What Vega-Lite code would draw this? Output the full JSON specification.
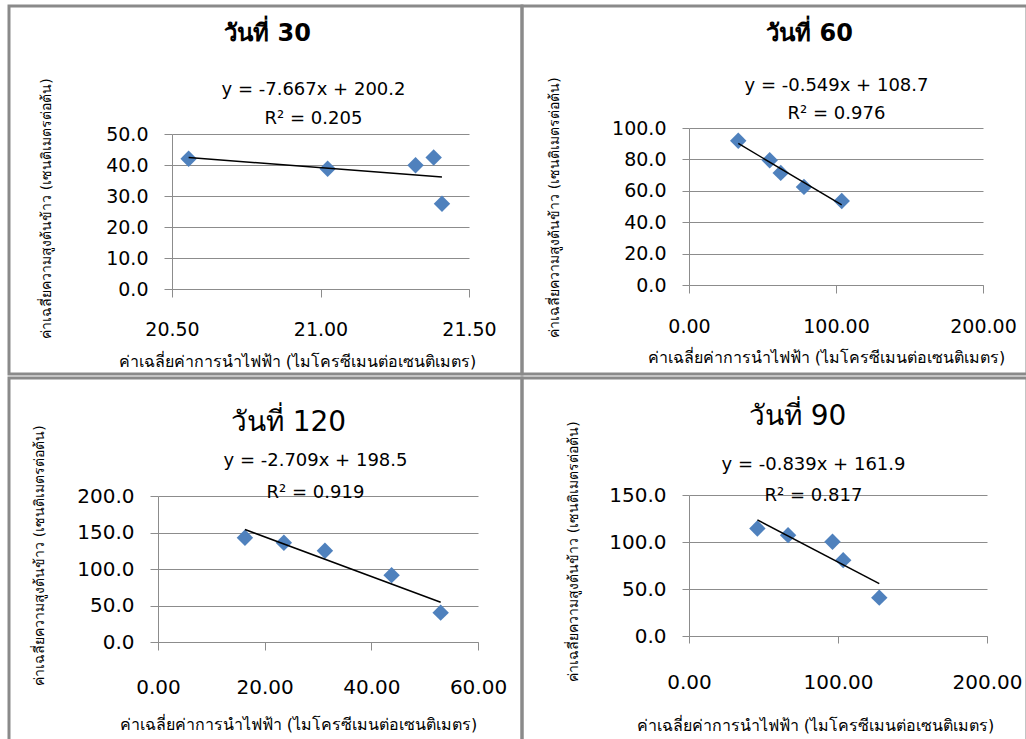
{
  "$schema": "https://vega.github.io/schema/vega-lite/v6.json",
  "padding": {"left": 7, "top": 4, "right": 0, "bottom": 0},
  "background": "white",
  "datasets": {
    "d30": [{"ec": 20.556, "h": 42.0}, {"ec": 21.024, "h": 38.8}, {"ec": 21.32, "h": 39.9}, {"ec": 21.381, "h": 42.4}, {"ec": 21.409, "h": 27.5}],
    "d60": [{"ec": 33.5, "h": 91.9}, {"ec": 54.9, "h": 79.5}, {"ec": 62.4, "h": 71.4}, {"ec": 78.2, "h": 62.5}, {"ec": 103.9, "h": 53.5}],
    "d120": [{"ec": 16.3, "h": 142.8}, {"ec": 23.6, "h": 135.9}, {"ec": 31.3, "h": 124.9}, {"ec": 43.8, "h": 91.6}, {"ec": 53.0, "h": 40.2}],
    "d90": [{"ec": 45.9, "h": 114.4}, {"ec": 66.5, "h": 107.3}, {"ec": 96.3, "h": 100.2}, {"ec": 103.5, "h": 80.7}, {"ec": 127.7, "h": 40.8}]
  },
  "spacing": 0,
  "vconcat": [
    {
      "spacing": 0,
      "bounds": "flush",
      "hconcat": [
        {
          "width": 513, "height": 368,
          "title": {"text": "วันที่ 30", "fontSize": 24, "fontWeight": "bold", "anchor": "middle", "frame": "group", "dx": 2, "offset": -40},
          "data": {"name": "d30"},
          "layer": [
            {
              "mark": {"type": "point", "shape": "diamond", "filled": true, "size": 270, "color": "#4F81BD", "opacity": 1},
              "encoding": {
                "x": {"field": "ec", "type": "quantitative", "scale": {"domain": [20.5, 21.5], "range": [163, 460], "nice": false, "zero": false},
                  "axis": {"orient": "bottom", "offset": -85, "values": [20.5, 21, 21.5], "format": ".2f", "tickSize": 8, "labelPadding": 32, "labelBaseline": "middle", "labelFontSize": 19,
                    "title": "ค่าเฉลี่ยค่าการนำไฟฟ้า (ไมโครซีเมนต่อเซนติเมตร)", "titleFontSize": 16, "titleX": 288, "titleY": 72, "titleBaseline": "middle", "grid": false}},
                "y": {"field": "h", "type": "quantitative", "scale": {"domain": [0, 50], "range": [283, 128], "nice": false, "zero": false},
                  "axis": {"orient": "left", "offset": -163, "values": [0, 10, 20, 30, 40, 50], "format": ".1f", "tickSize": 8, "labelPadding": 16, "labelFontSize": 19, "grid": true,
                    "title": "ค่าเฉลี่ยความสูงต้นข้าว (เซนติเมตรต่อต้น)", "titleFontSize": 14, "titleX": -126, "titleY": 202, "titleBaseline": "middle"}}
              }
            },
            {
              "transform": [{"regression": "h", "on": "ec"}],
              "mark": {"type": "line", "color": "#000000", "strokeWidth": 1.5},
              "encoding": {
                "x": {"field": "ec", "type": "quantitative",
                  "axis": {"orient": "top", "offset": 0, "domain": false, "ticks": false, "labels": false, "grid": false,
                    "title": ["y = -7.667x + 200.2", "R² = 0.205"], "titleFontSize": 18, "titleFontWeight": "normal", "titleX": 304, "titleY": 83.5, "titleBaseline": "middle", "titleLineHeight": 29, "titleAngle": 0}},
                "y": {"field": "h", "type": "quantitative"}
              }
            }
          ],
          "resolve": {"axis": {"x": "independent"}}
        },
        {
          "width": 505, "height": 368,
          "title": {"text": "วันที่ 60", "fontSize": 24, "fontWeight": "bold", "anchor": "middle", "frame": "group", "dx": 35, "offset": -40},
          "data": {"name": "d60"},
          "layer": [
            {
              "mark": {"type": "point", "shape": "diamond", "filled": true, "size": 270, "color": "#4F81BD", "opacity": 1},
              "encoding": {
                "x": {"field": "ec", "type": "quantitative", "scale": {"domain": [0, 200], "range": [167, 461], "nice": false, "zero": false},
                  "axis": {"orient": "bottom", "offset": -89, "values": [0, 100, 200], "format": ".2f", "tickSize": 8, "labelPadding": 33, "labelBaseline": "middle", "labelFontSize": 19,
                    "title": "ค่าเฉลี่ยค่าการนำไฟฟ้า (ไมโครซีเมนต่อเซนติเมตร)", "titleFontSize": 16, "titleX": 304, "titleY": 72, "titleBaseline": "middle", "grid": false}},
                "y": {"field": "h", "type": "quantitative", "scale": {"domain": [0, 100], "range": [279, 122], "nice": false, "zero": false},
                  "axis": {"orient": "left", "offset": -167, "values": [0, 20, 40, 60, 80, 100], "format": ".1f", "tickSize": 7, "labelPadding": 16, "labelFontSize": 19, "grid": true,
                    "title": "ค่าเฉลี่ยความสูงต้นข้าว (เซนติเมตรต่อต้น)", "titleFontSize": 14, "titleX": -135, "titleY": 201, "titleBaseline": "middle"}}
              }
            },
            {
              "transform": [{"regression": "h", "on": "ec"}],
              "mark": {"type": "line", "color": "#000000", "strokeWidth": 1.5},
              "encoding": {
                "x": {"field": "ec", "type": "quantitative",
                  "axis": {"orient": "top", "offset": 0, "domain": false, "ticks": false, "labels": false, "grid": false,
                    "title": ["y = -0.549x + 108.7", "R² = 0.976"], "titleFontSize": 18, "titleFontWeight": "normal", "titleX": 314, "titleY": 79, "titleBaseline": "middle", "titleLineHeight": 28, "titleAngle": 0}},
                "y": {"field": "h", "type": "quantitative"}
              }
            }
          ],
          "resolve": {"axis": {"x": "independent"}}
        }
      ]
    },
    {
      "spacing": 0,
      "bounds": "flush",
      "hconcat": [
        {
          "width": 513, "height": 363,
          "title": {"text": "วันที่ 120", "fontSize": 28, "fontWeight": "normal", "anchor": "middle", "frame": "group", "dx": 23, "offset": -59},
          "data": {"name": "d120"},
          "layer": [
            {
              "mark": {"type": "point", "shape": "diamond", "filled": true, "size": 270, "color": "#4F81BD", "opacity": 1},
              "encoding": {
                "x": {"field": "ec", "type": "quantitative", "scale": {"domain": [0, 60], "range": [149, 469], "nice": false, "zero": false},
                  "axis": {"orient": "bottom", "offset": -99, "values": [0, 20, 40, 60], "format": ".2f", "tickSize": 8, "labelPadding": 37, "labelBaseline": "middle", "labelFontSize": 20,
                    "title": "ค่าเฉลี่ยค่าการนำไฟฟ้า (ไมโครซีเมนต่อเซนติเมตร)", "titleFontSize": 16, "titleX": 289, "titleY": 82, "titleBaseline": "middle", "grid": false}},
                "y": {"field": "h", "type": "quantitative", "scale": {"domain": [0, 200], "range": [264, 118], "nice": false, "zero": false},
                  "axis": {"orient": "left", "offset": -149, "values": [0, 50, 100, 150, 200], "format": ".1f", "tickSize": 8, "labelPadding": 16, "labelFontSize": 20, "grid": true,
                    "title": "ค่าเฉลี่ยความสูงต้นข้าว (เซนติเมตรต่อต้น)", "titleFontSize": 14, "titleX": -119, "titleY": 177, "titleBaseline": "middle"}}
              }
            },
            {
              "transform": [{"regression": "h", "on": "ec"}],
              "mark": {"type": "line", "color": "#000000", "strokeWidth": 1.5},
              "encoding": {
                "x": {"field": "ec", "type": "quantitative",
                  "axis": {"orient": "top", "offset": 0, "domain": false, "ticks": false, "labels": false, "grid": false,
                    "title": ["y = -2.709x + 198.5", "R² = 0.919"], "titleFontSize": 18, "titleFontWeight": "normal", "titleX": 306, "titleY": 82, "titleBaseline": "middle", "titleLineHeight": 32, "titleAngle": 0}},
                "y": {"field": "h", "type": "quantitative"}
              }
            }
          ],
          "resolve": {"axis": {"x": "independent"}}
        },
        {
          "width": 505, "height": 363,
          "title": {"text": "วันที่ 90", "fontSize": 28, "fontWeight": "normal", "anchor": "middle", "frame": "group", "dx": 23, "offset": -53},
          "data": {"name": "d90"},
          "layer": [
            {
              "mark": {"type": "point", "shape": "diamond", "filled": true, "size": 270, "color": "#4F81BD", "opacity": 1},
              "encoding": {
                "x": {"field": "ec", "type": "quantitative", "scale": {"domain": [0, 200], "range": [167, 465], "nice": false, "zero": false},
                  "axis": {"orient": "bottom", "offset": -105, "values": [0, 100, 200], "format": ".2f", "tickSize": 7, "labelPadding": 39, "labelBaseline": "middle", "labelFontSize": 20,
                    "title": "ค่าเฉลี่ยค่าการนำไฟฟ้า (ไมโครซีเมนต่อเซนติเมตร)", "titleFontSize": 16, "titleX": 293, "titleY": 89, "titleBaseline": "middle", "grid": false}},
                "y": {"field": "h", "type": "quantitative", "scale": {"domain": [0, 150], "range": [258, 117], "nice": false, "zero": false},
                  "axis": {"orient": "left", "offset": -167, "values": [0, 50, 100, 150], "format": ".1f", "tickSize": 7, "labelPadding": 16, "labelFontSize": 20, "grid": true,
                    "title": "ค่าเฉลี่ยความสูงต้นข้าว (เซนติเมตรต่อต้น)", "titleFontSize": 14, "titleX": -116, "titleY": 173, "titleBaseline": "middle"}}
              }
            },
            {
              "transform": [{"regression": "h", "on": "ec"}],
              "mark": {"type": "line", "color": "#000000", "strokeWidth": 1.5},
              "encoding": {
                "x": {"field": "ec", "type": "quantitative",
                  "axis": {"orient": "top", "offset": 0, "domain": false, "ticks": false, "labels": false, "grid": false,
                    "title": ["y = -0.839x + 161.9", "R² = 0.817"], "titleFontSize": 18, "titleFontWeight": "normal", "titleX": 291, "titleY": 86.5, "titleBaseline": "middle", "titleLineHeight": 31, "titleAngle": 0}},
                "y": {"field": "h", "type": "quantitative"}
              }
            }
          ],
          "resolve": {"axis": {"x": "independent"}}
        }
      ]
    }
  ],
  "config": {
    "font": "DejaVu Sans",
    "view": {"stroke": "#8a8a8a", "strokeWidth": 3},
    "title": {"color": "#000000", "font": "DejaVu Sans"},
    "axis": {
      "labelFont": "DejaVu Sans", "titleFont": "DejaVu Sans",
      "labelColor": "#000000", "titleColor": "#000000", "titleFontWeight": "normal",
      "domainColor": "#8c8c8c", "tickColor": "#8c8c8c", "gridColor": "#8c8c8c",
      "domainWidth": 1, "tickWidth": 1, "gridWidth": 1, "gridOpacity": 1,
      "labelFlush": false, "labelOverlap": false
    }
  }
}
